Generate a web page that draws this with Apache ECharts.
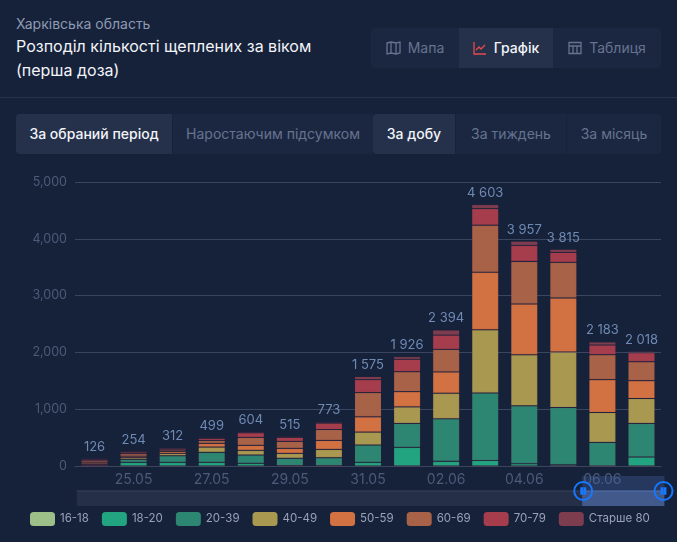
<!DOCTYPE html>
<html>
<head>
<meta charset="utf-8">
<script src="https://cdn.jsdelivr.net/npm/echarts@6/dist/echarts.min.js"></script>
<style>
	html, body { margin: 0; padding: 0; background: #16213a; }
	body { width: 677px; height: 542px; position: relative; overflow: hidden; font-family: Inter, "Noto Sans", sans-serif; }
	.region { position: absolute; left: 16px; top: 15px; font-size: 14px; line-height: 18px; color: #8e9ab3; }
	.title { position: absolute; left: 16px; top: 34px; font-size: 16px; line-height: 24px; color: #f2f4f8; }
	.divider { position: absolute; left: 0; top: 97px; width: 677px; height: 1px; background: #27324c; }
	.tab { position: absolute; box-sizing: border-box; height: 40px; line-height: 40px; text-align: center; font-size: 14px; color: #66738f; background: #1b2741; }
	.tab.on { background: #25314b; color: #f2f4f8; font-weight: 500; }
	.tab svg { vertical-align: -2px; margin-right: 7px; }
	.l { border-radius: 4px 0 0 4px; }
	.r { border-radius: 0 4px 4px 0; }
	#chart { position: absolute; left: 0; top: 160px; width: 677px; height: 382px; }
</style>
</head>
<body>
<div class="region">Харківська область</div>
<div class="title">Розподіл кількості щеплених за віком<br>(перша доза)</div>
<div class="tab l" style="left:371px;top:28px;width:88px">
	<svg width="15" height="14" viewBox="0 0 15 14" fill="none" stroke="#66738f" stroke-width="1.3"><path d="M1 2l4-1 5 1 4-1v11l-4 1-5-1-4 1zM5 1v11M10 2v11"/></svg>Мапа</div>
<div class="tab on" style="left:459px;top:28px;width:94px">
	<svg width="14" height="14" viewBox="0 0 14 14" fill="none" stroke="#e5484d" stroke-width="1.3"><path d="M1 1v12h12M3 9l3-3 2 2 4-4"/></svg>Графік</div>
<div class="tab r" style="left:553px;top:28px;width:108px">
	<svg width="14" height="14" viewBox="0 0 14 14" fill="none" stroke="#66738f" stroke-width="1.3"><path d="M1 1.5h12v11H1zM1 5h12M5 5v7.5M9 5v7.5"/></svg>Таблиця</div>
<div class="divider"></div>
<div class="tab on l" style="left:16px;top:114px;width:156px">За обраний період</div>
<div class="tab" style="left:173px;top:114px;width:200px">Наростаючим підсумком</div>
<div class="tab on l" style="left:373px;top:114px;width:82px">За добу</div>
<div class="tab" style="left:456px;top:114px;width:110px">За тиждень</div>
<div class="tab r" style="left:567px;top:114px;width:94px">За місяць</div>
<div id="chart"></div>
<script>
let dates = ['24.05', '25.05', '26.05', '27.05', '28.05', '29.05', '30.05', '31.05', '01.06', '02.06', '03.06', '04.06', '05.06', '06.06', '07.06']

let age1618 = [0, 0, 0, 0, 0, 0, 0, 0, 0, 0, 0, 0, 0, 0, 0]
let age1820 = [5, 64, 64, 64, 47, 6, 5, 64, 328, 82, 99, 41, 23, 0, 158]
let age2039 = [15, 53, 117, 176, 146, 129, 141, 305, 421, 749, 1188, 1018, 1007, 415, 591]
let age4049 = [12, 30, 41, 93, 82, 87, 146, 228, 292, 450, 1111, 901, 977, 527, 439]
let age5059 = [24, 25, 35, 65, 88, 88, 158, 269, 269, 375, 1011, 894, 952, 579, 315]
let age6069 = [34, 45, 24, 52, 140, 123, 193, 427, 351, 397, 831, 748, 626, 439, 334]
let age7079 = [25, 27, 23, 35, 82, 70, 112, 228, 217, 251, 292, 281, 175, 170, 158]
let age80 = [11, 10, 8, 14, 19, 12, 18, 54, 48, 90, 71, 74, 55, 53, 23]
let totals = [126, 254, 312, 499, 604, 515, 773, 1575, 1926, 2394, 4603, 3957, 3815, 2183, 2018]

let names = ['16-18', '18-20', '20-39', '40-49', '50-59', '60-69', '70-79', 'Старше 80']
let colors = ['#9cc088', '#21a47f', '#2d8672', '#a89850', '#d27242', '#a86248', '#a63d4c', '#7d3d4e']
let values = [age1618, age1820, age2039, age4049, age5059, age6069, age7079, age80]

let formatTotal = (num) => String(num).replace(/\B(?=(\d{3})+$)/g, ' ')

let series = values.map((data, index) => {
	let item = {
		name: names[index],
		type: 'bar',
		stack: 'age',
		barWidth: 27,
		xAxisIndex: 0,
		yAxisIndex: 0,
		data: data,
		itemStyle: { color: colors[index], borderColor: 'rgba(125, 61, 78, 0.15)', borderWidth: 1 }
	}
	// підпис із сумою над стовпчиком
	if (index === values.length - 1) {
		item.label = {
			show: true,
			position: 'top',
			distance: 5,
			color: '#6f8ab3',
			fontSize: 13,
			formatter: (p) => formatTotal(totals[p.dataIndex])
		}
	}
	return item
})

// окрема вісь лише для повзунка, щоб основний графік показував увесь період
series.push({
	name: 'slider',
	type: 'bar',
	xAxisIndex: 1,
	yAxisIndex: 1,
	data: age1618,
	silent: true,
	itemStyle: { opacity: 0 }
})

let tickInterval = (index) => index % 2 === 1

let chart = echarts.init(document.querySelector('#chart'))
chart.setOption({
	animation: false,
	textStyle: { fontFamily: 'Inter, "Noto Sans", sans-serif' },
	grid: [
		{ left: 75, right: 16, top: 22, height: 284 },
		{ left: 75, right: 16, top: 22, height: 284, show: false }
	],
	legend: {
		data: names,
		left: 25,
		top: 347,
		itemWidth: 25,
		itemHeight: 14,
		itemGap: 13,
		itemStyle: { borderWidth: 0 },
		formatter: (name) => `{a|${name}}`,
		textStyle: {
			rich: { a: { width: 38, color: '#98a3b8', fontSize: 11.5 } }
		}
	},
	xAxis: [
		{
			type: 'category',
			data: dates,
			axisLine: { lineStyle: { color: '#3a4560' } },
			axisTick: { interval: tickInterval, lineStyle: { color: '#3a4560' } },
			axisLabel: { interval: tickInterval, color: '#4d5a78', fontSize: 14, margin: 7 }
		},
		{ type: 'category', gridIndex: 1, data: dates, show: false }
	],
	yAxis: [
		{
			type: 'value',
			min: 0,
			max: 5000,
			interval: 1000,
			axisLine: { show: false },
			axisTick: { show: false },
			axisLabel: { color: '#4d5a78', fontSize: 12.5, margin: 8, formatter: (v) => v.toLocaleString('en-US') },
			splitLine: { lineStyle: { color: '#3a4560' } }
		},
		{ type: 'value', gridIndex: 1, min: 0, max: 5000, show: false }
	],
	dataZoom: [{
		type: 'slider',
		xAxisIndex: 1,
		left: 74,
		right: 15,
		top: 316,
		height: 30,
		start: 86,
		end: 100,
		showDetail: false,
		brushSelect: false,
		moveHandleSize: 0,
		borderColor: 'transparent',
		backgroundColor: 'transparent',
		fillerColor: 'rgba(70, 100, 160, 0.35)',
		showDataShadow: true,
		dataBackground: {
			lineStyle: { color: '#3a4560', width: 1, opacity: 1 },
			areaStyle: { color: '#262f48', opacity: 1 }
		},
		selectedDataBackground: {
			lineStyle: { color: '#5f7fb8', width: 1, opacity: 1 },
			areaStyle: { color: '#3f5480', opacity: 1 }
		},
		handleIcon: 'path://M50 4A46 46 0 1 1 49.9 4ZM40 36H44V64H40ZM56 36H60V64H56Z',
		handleSize: 18,
		handleStyle: { color: 'transparent', borderColor: '#1677ff', borderWidth: 2 }
	}],
	series: series
})
</script>
</body>
</html>
